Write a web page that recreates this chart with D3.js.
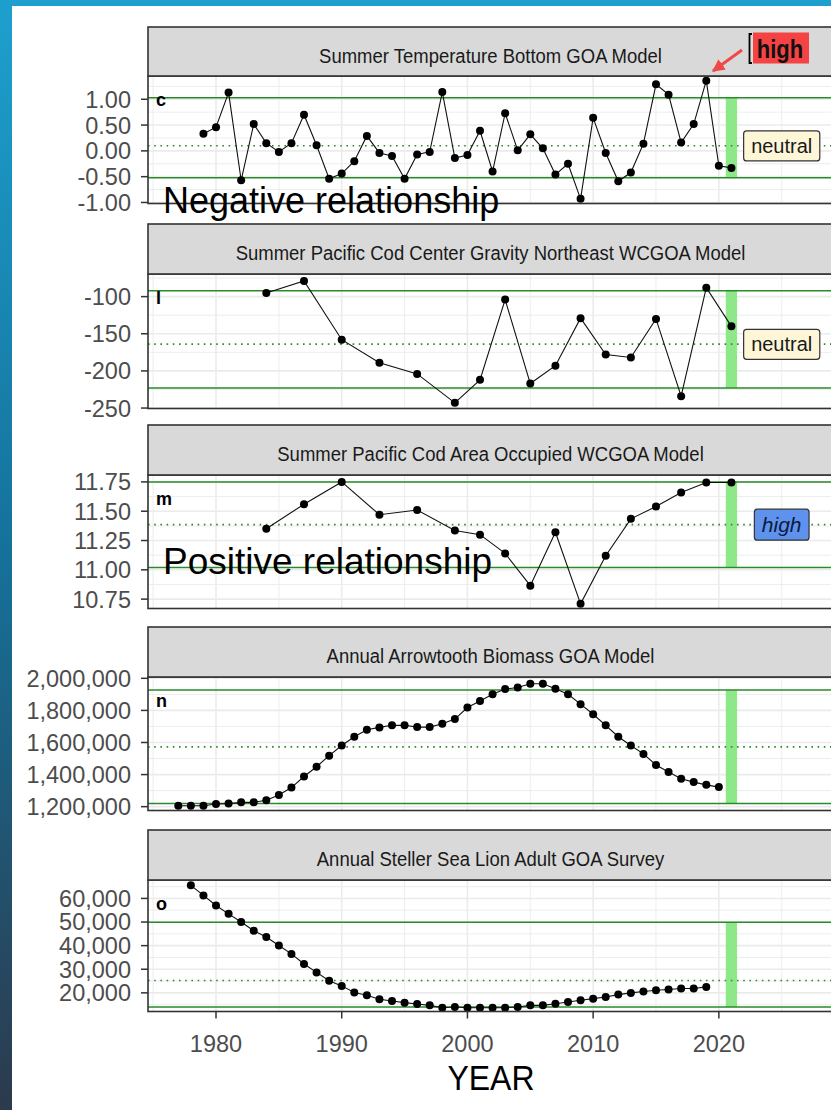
<!DOCTYPE html>
<html><head><meta charset="utf-8">
<script src="https://cdn.jsdelivr.net/npm/d3@7"></script>
<style>html,body{margin:0;padding:0;background:#fff;} svg{display:block;}</style>
</head><body>
<svg id="chart" width="831" height="1110"></svg>
<script>
// ---------------- DATA ----------------
const tempYears = [1979,1980,1981,1982,1983,1984,1985,1986,1987,1988,1989,1990,1991,1992,1993,1994,1995,1996,1997,1998,1999,2000,2001,2002,2003,2004,2005,2006,2007,2008,2009,2010,2011,2012,2013,2014,2015,2016,2017,2018,2019,2020,2021];
const tempValues = [0.33,0.46,1.13,-0.57,0.52,0.15,-0.02,0.15,0.70,0.11,-0.54,-0.44,-0.20,0.29,-0.04,-0.10,-0.54,-0.07,-0.02,1.14,-0.14,-0.08,0.39,-0.40,0.73,0.01,0.32,0.05,-0.46,-0.25,-0.93,0.64,-0.04,-0.59,-0.42,0.14,1.29,1.09,0.16,0.52,1.36,-0.29,-0.33];
const tempRef = [1.03, 0.10, -0.52];           // upper, mean, lower
const tempTicks = [-1.00,-0.50,0.00,0.50,1.00];

const codYears = [1984,1987,1990,1993,1996,1999,2001,2003,2005,2007,2009,2011,2013,2015,2017,2019,2021];
const codGravValues = [-95,-79,-158,-189,-204,-243,-212,-104,-217,-193,-129,-178,-182,-130,-234,-88,-140];
const codGravRef = [-92, -164, -223];
const codGravTicks = [-250,-200,-150,-100];

const codAreaValues = [11.35,11.56,11.75,11.47,11.51,11.335,11.30,11.14,10.865,11.32,10.71,11.12,11.435,11.54,11.66,11.745,11.745];
const codAreaRef = [11.75, 11.386, 11.02];
const codAreaTicks = [10.75,11.00,11.25,11.50,11.75];

const atfYears = [1977,1978,1979,1980,1981,1982,1983,1984,1985,1986,1987,1988,1989,1990,1991,1992,1993,1994,1995,1996,1997,1998,1999,2000,2001,2002,2003,2004,2005,2006,2007,2008,2009,2010,2011,2012,2013,2014,2015,2016,2017,2018,2019,2020];
const atfValues = [1206000,1206000,1206000,1217000,1219000,1227000,1227000,1240000,1273000,1319000,1388000,1449000,1518000,1581000,1636000,1680000,1694000,1707000,1707000,1696000,1696000,1717000,1746000,1818000,1859000,1901000,1933000,1943000,1966000,1966000,1935000,1901000,1839000,1776000,1707000,1636000,1581000,1529000,1460000,1416000,1374000,1353000,1336000,1322000];
const atfRef = [1926500, 1573000, 1219000];
const atfTicks = [1200000,1400000,1600000,1800000,2000000];

const sslYears = [1978,1979,1980,1981,1982,1983,1984,1985,1986,1987,1988,1989,1990,1991,1992,1993,1994,1995,1996,1997,1998,1999,2000,2001,2002,2003,2004,2005,2006,2007,2008,2009,2010,2011,2012,2013,2014,2015,2016,2017,2018,2019];
const sslValues = [65560,61280,57010,53460,50040,46320,43620,40040,36500,32220,28660,25100,22950,20130,18970,17260,16550,15840,15270,14700,13710,13990,13710,13710,13710,13710,13990,14700,14700,15410,16130,16840,17550,18260,19260,19970,20540,21110,21400,21820,21820,22530];
const sslRef = [49900, 25260, 13970];
const sslTicks = [20000,30000,40000,50000,60000];

const panelTitles = ["Summer Temperature Bottom GOA Model","Summer Pacific Cod Center Gravity Northeast WCGOA Model","Summer Pacific Cod Area Occupied WCGOA Model","Annual Arrowtooth Biomass GOA Model","Annual Steller Sea Lion Adult GOA Survey"];
const panelTags = ["c","l","m","n","o"];
const statusLabels = ["neutral","neutral","high",null,null];
const xTicks = [1980,1990,2000,2010,2020];
const currentYear = 2021;
const labelYear = 2025;

// ---------------- LAYOUT ----------------
const W = 831, H = 1110;
const svg = d3.select("#chart");
const FONT = "'Liberation Sans', Arial, sans-serif";
const loc = d3.formatLocale({decimal:".", thousands:",", grouping:[3], currency:["$",""], minus:"-"});
const defs = svg.append("defs");
const bg = defs.append("linearGradient").attr("id","bg").attr("x1",0).attr("y1",0).attr("x2",0).attr("y2",1);
bg.append("stop").attr("offset","0%").attr("stop-color","#1da0ce");
bg.append("stop").attr("offset","50%").attr("stop-color","#15719a");
bg.append("stop").attr("offset","100%").attr("stop-color","#2c3a4c");
defs.append("marker").attr("id","arrowhead").attr("viewBox","0 0 10 10").attr("refX",9).attr("refY",5)
  .attr("markerWidth",4.2).attr("markerHeight",4.2).attr("orient","auto").attr("markerUnits","strokeWidth")
  .append("path").attr("d","M0,0 L10,5 L0,10 z").attr("fill","#f04848");

svg.append("rect").attr("width",W).attr("height",H).attr("fill","url(#bg)");
svg.append("rect").attr("x",12).attr("y",6).attr("width",W-12).attr("height",H-6).attr("fill","#fff");

// stretched text helper
function sText(parent, xx, yy, sy) {
  return parent.append("text").attr("transform", `translate(${xx},${yy}) scale(1,${sy})`);
}

const left = 148, right = 833;
const x = d3.scaleLinear().domain([1974.59, 2029.08]).range([left, right]);

const panels = [
  {years:tempYears, values:tempValues, ref:tempRef, ticks:tempTicks, fmt:loc.format(".2f"), stripTop:27, top:76, bottom:203.5, domain:[-1.020,1.451]},
  {years:codYears, values:codGravValues, ref:codGravRef, ticks:codGravTicks, fmt:loc.format("d"), stripTop:224, top:274, bottom:408.5, domain:[-250.6,-69.55]},
  {years:codYears, values:codAreaValues, ref:codAreaRef, ticks:codAreaTicks, fmt:loc.format(".2f"), stripTop:425, top:475, bottom:608.5, domain:[10.670,11.809]},
  {years:atfYears, values:atfValues, ref:atfRef, ticks:atfTicks, fmt:loc.format(","), stripTop:627, top:677, bottom:810.5, domain:[1176150,2008200]},
  {years:sslYears, values:sslValues, ref:sslRef, ticks:sslTicks, fmt:loc.format(","), stripTop:830, top:880, bottom:1011.5, domain:[12098,67808]}
];

panels.forEach((p, i) => {
  const y = d3.scaleLinear().domain(p.domain).range([p.bottom, p.top]);
  const g = svg.append("g");
  const clipId = "clip" + i;
  defs.append("clipPath").attr("id", clipId).append("rect")
    .attr("x", left).attr("y", p.top).attr("width", right-left).attr("height", p.bottom-p.top);
  const body = g.append("g").attr("clip-path", `url(#${clipId})`);
  body.append("rect").attr("x",left).attr("y",p.top).attr("width",right-left).attr("height",p.bottom-p.top).attr("fill","#fff");

  // grid
  const step = p.ticks[1]-p.ticks[0];
  const minorY = [];
  for (let k = -2; k < p.ticks.length + 2; k++) minorY.push(p.ticks[0] + (k + 0.5) * step);
  body.selectAll(".hminor").data(minorY).join("line")
    .attr("x1",left).attr("x2",right).attr("y1",d=>y(d)).attr("y2",d=>y(d))
    .attr("stroke","#ebebeb").attr("stroke-width",0.9);
  const minorX = [1975,1985,1995,2005,2015,2025];
  body.selectAll(".vminor").data(minorX).join("line")
    .attr("y1",p.top).attr("y2",p.bottom).attr("x1",d=>x(d)).attr("x2",d=>x(d))
    .attr("stroke","#ebebeb").attr("stroke-width",0.9);
  body.selectAll(".hmajor").data(p.ticks).join("line")
    .attr("x1",left).attr("x2",right).attr("y1",d=>y(d)).attr("y2",d=>y(d))
    .attr("stroke","#ebebeb").attr("stroke-width",1.6);
  body.selectAll(".vmajor").data(xTicks.concat([2030])).join("line")
    .attr("y1",p.top).attr("y2",p.bottom).attr("x1",d=>x(d)).attr("x2",d=>x(d))
    .attr("stroke","#ebebeb").attr("stroke-width",1.6);

  // current-year bar
  body.append("rect").attr("x", x(currentYear-0.45)).attr("width", x(currentYear+0.45)-x(currentYear-0.45))
    .attr("y", y(p.ref[0])).attr("height", y(p.ref[2]) - y(p.ref[0])).attr("fill","#8ee88a");

  // reference lines
  [p.ref[0], p.ref[2]].forEach(v => body.append("line").attr("x1",left).attr("x2",right)
    .attr("y1",y(v)).attr("y2",y(v)).attr("stroke","#2a8a2a").attr("stroke-width",1.5));
  body.append("line").attr("x1",left).attr("x2",right).attr("y1",y(p.ref[1])).attr("y2",y(p.ref[1]))
    .attr("stroke","#2a8a2a").attr("stroke-width",1.6).attr("stroke-dasharray","1.6,4.6");

  // series
  const pts = p.years.map((yr, j) => [yr, p.values[j]]);
  body.append("path").datum(pts).attr("fill","none").attr("stroke","#111").attr("stroke-width",1.1)
    .attr("d", d3.line().x(d=>x(d[0])).y(d=>y(d[1])));
  body.selectAll(".pt").data(pts).join("circle").attr("cx",d=>x(d[0])).attr("cy",d=>y(d[1])).attr("r",4).attr("fill","#000");

  // panel border
  g.append("rect").attr("x",left).attr("y",p.top).attr("width",right-left).attr("height",p.bottom-p.top)
    .attr("fill","none").attr("stroke","#333").attr("stroke-width",1.6);
  // strip
  g.append("rect").attr("x",left).attr("y",p.stripTop).attr("width",right-left).attr("height",p.top-p.stripTop)
    .attr("fill","#d9d9d9").attr("stroke","#333").attr("stroke-width",1.6);
  sText(g, (left+right)/2, p.stripTop+35.5, 1.1).attr("text-anchor","middle")
    .attr("font-family",FONT).attr("font-size",18.5).attr("fill","#1a1a1a").text(panelTitles[i]);

  // y axis
  g.selectAll(".yt").data(p.ticks).join("line").attr("x1",141).attr("x2",left).attr("y1",d=>y(d)).attr("y2",d=>y(d))
    .attr("stroke","#333").attr("stroke-width",1.5);
  g.selectAll(".yl").data(p.ticks).join("text").attr("x",131).attr("y",d=>y(d)).attr("dy","0.36em")
    .attr("text-anchor","end").attr("font-family",FONT).attr("font-size",23.5).attr("fill","#4d4d4d").text(d=>p.fmt(d));

  // tag
  g.append("text").attr("x",156).attr("y",p.top+24).attr("dy","0.35em").attr("font-family",FONT)
    .attr("font-weight","bold").attr("font-size",18).attr("fill","#000").text(panelTags[i]);

  // status label
  const s = statusLabels[i];
  if (s) {
    const lg = g.append("g");
    const isHigh = s === "high";
    const t = lg.append("text").attr("x", x(labelYear)).attr("y", y(p.ref[1])).attr("dy","0.36em")
      .attr("text-anchor","middle").attr("font-family",FONT).attr("font-size", isHigh ? 21 : 20)
      .attr("font-style", isHigh ? "italic" : "normal").attr("fill", isHigh ? "#0d1a40" : "#1a1a1a").text(s);
    const bb = t.node().getBBox();
    lg.insert("rect","text").attr("x",bb.x-7.5).attr("y",bb.y-4).attr("width",bb.width+15).attr("height",bb.height+8)
      .attr("rx",3).attr("fill", isHigh ? "#5f92ec" : "#fdf7d8").attr("stroke","#333").attr("stroke-width",1.2);
  }

  if (i === panels.length - 1) {
    g.selectAll(".xt").data(xTicks).join("line").attr("x1",d=>x(d)).attr("x2",d=>x(d)).attr("y1",p.bottom).attr("y2",p.bottom+7)
      .attr("stroke","#333").attr("stroke-width",1.5);
    g.selectAll(".xl").data(xTicks).join("text").attr("x",d=>x(d)).attr("y",1052).attr("text-anchor","middle")
      .attr("font-family",FONT).attr("font-size",23.5).attr("fill","#4d4d4d").text(d=>d);
  }
});

// x axis title
sText(svg, 491, 1090, 1.08).attr("text-anchor","middle").attr("font-family",FONT)
  .attr("font-size",32).attr("fill","#000").text("YEAR");

// relationship annotations
svg.append("text").attr("x",163).attr("y",213).attr("font-family",FONT).attr("font-size",36).attr("fill","#000").text("Negative relationship");
svg.append("text").attr("x",163).attr("y",574).attr("font-family",FONT).attr("font-size",37).attr("fill","#000").text("Positive relationship");

// "high" callout on top panel
svg.append("rect").attr("x",753).attr("y",32.5).attr("width",56).attr("height",31).attr("fill","#f54343");
svg.append("path").attr("d","M752,34 L749.5,34 L749.5,63 L752,63").attr("fill","none").attr("stroke","#000").attr("stroke-width",1.8);
sText(svg, 780, 58, 1.2).attr("text-anchor","middle").attr("font-family",FONT).attr("font-weight","bold")
  .attr("font-size",22).attr("fill","#111").text("high");
svg.append("line").attr("x1",742).attr("y1",50).attr("x2",713).attr("y2",71).attr("stroke","#f04848").attr("stroke-width",3)
  .attr("marker-end","url(#arrowhead)");
</script>
</body></html>
